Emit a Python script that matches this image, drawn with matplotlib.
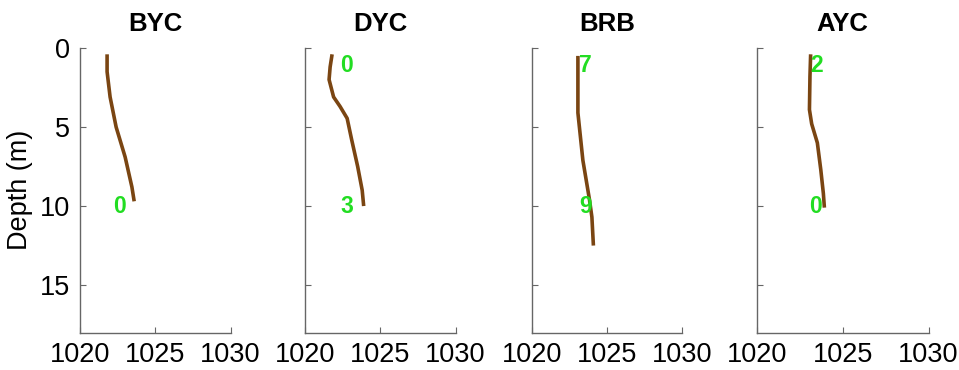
import matplotlib
matplotlib.use("Agg")
import matplotlib.pyplot as plt

plt.rcParams['font.family'] = ['Liberation Sans', 'DejaVu Sans']

SITES = ["BYC", "DYC", "BRB", "AYC"]

# density profiles (kg/m^3) vs depth (m)
BYC_DEPTH = [0.4, 1.5, 3.1, 5.0, 6.9, 8.8, 9.7]
BYC_DENS = [1021.8, 1021.8, 1022.0, 1022.4, 1023.0, 1023.45, 1023.6]

DYC_DEPTH = [0.4, 1.2, 2.0, 3.1, 3.7, 4.45, 5.8, 7.5, 9.0, 10.0]
DYC_DENS = [1021.8, 1021.67, 1021.6, 1021.9, 1022.33, 1022.8, 1023.1, 1023.5, 1023.8, 1023.9]

BRB_DEPTH = [0.5, 4.1, 7.1, 9.6, 10.7, 12.5]
BRB_DENS = [1023.07, 1023.07, 1023.4, 1023.84, 1024.0, 1024.1]

AYC_DEPTH = [0.4, 1.8, 3.9, 4.8, 6.0, 7.7, 9.2, 10.1]
AYC_DENS = [1023.14, 1023.1, 1023.07, 1023.2, 1023.53, 1023.73, 1023.88, 1023.94]

# green labels: (x, depth, text)
BYC_LABELS = [(1022.6, 10.0, "0")]
DYC_LABELS = [(1022.75, 1.1, "0"), (1022.75, 10.0, "3")]
BRB_LABELS = [(1023.55, 1.1, "7"), (1023.55, 10.0, "9")]
AYC_LABELS = [(1023.5, 1.1, "2"), (1023.45, 10.0, "0")]

PROFILES = [
    (BYC_DENS, BYC_DEPTH, BYC_LABELS),
    (DYC_DENS, DYC_DEPTH, DYC_LABELS),
    (BRB_DENS, BRB_DEPTH, BRB_LABELS),
    (AYC_DENS, AYC_DEPTH, AYC_LABELS),
]

W, H = 959, 370
fig = plt.figure(figsize=(W / 100, H / 100), dpi=100)

# axes boxes in pixels: left, right
boxes = [(80, 230.5), (305, 455.5), (531.7, 682.2), (756.7, 928.5)]
top, bottom = 48, 332.5

for i, (site, (dens, depth, labels)) in enumerate(zip(SITES, PROFILES)):
    l, r = boxes[i]
    ax = fig.add_axes([l / W, (H - bottom) / H, (r - l) / W, (bottom - top) / H])
    ax.plot(dens, depth, color='#7a4512', lw=2.6, solid_capstyle='butt')
    for x, d, t in labels:
        ax.text(x, d, t, color='#22dd22', fontsize=16.5, fontweight='bold',
                ha='center', va='center')
    ax.set_xlim(1020, 1030)
    ax.set_ylim(18, 0)
    ax.set_xticks([1020, 1025, 1030])
    ax.set_yticks([0, 5, 10, 15])
    ax.spines['top'].set_visible(False)
    ax.spines['right'].set_visible(False)
    for s in ('left', 'bottom'):
        ax.spines[s].set_color('#666666')
        ax.spines[s].set_linewidth(1.0)
    ax.tick_params(direction='in', length=4, color='#666666', labelsize=19.5, pad=7)
    if i > 0:
        ax.set_yticklabels([])
    else:
        ax.set_ylabel('Depth (m)', fontsize=19.5, labelpad=5)
    ax.set_title(site, fontsize=18.5, fontweight='bold', pad=12)

fig.savefig('out.png', dpi=100)
